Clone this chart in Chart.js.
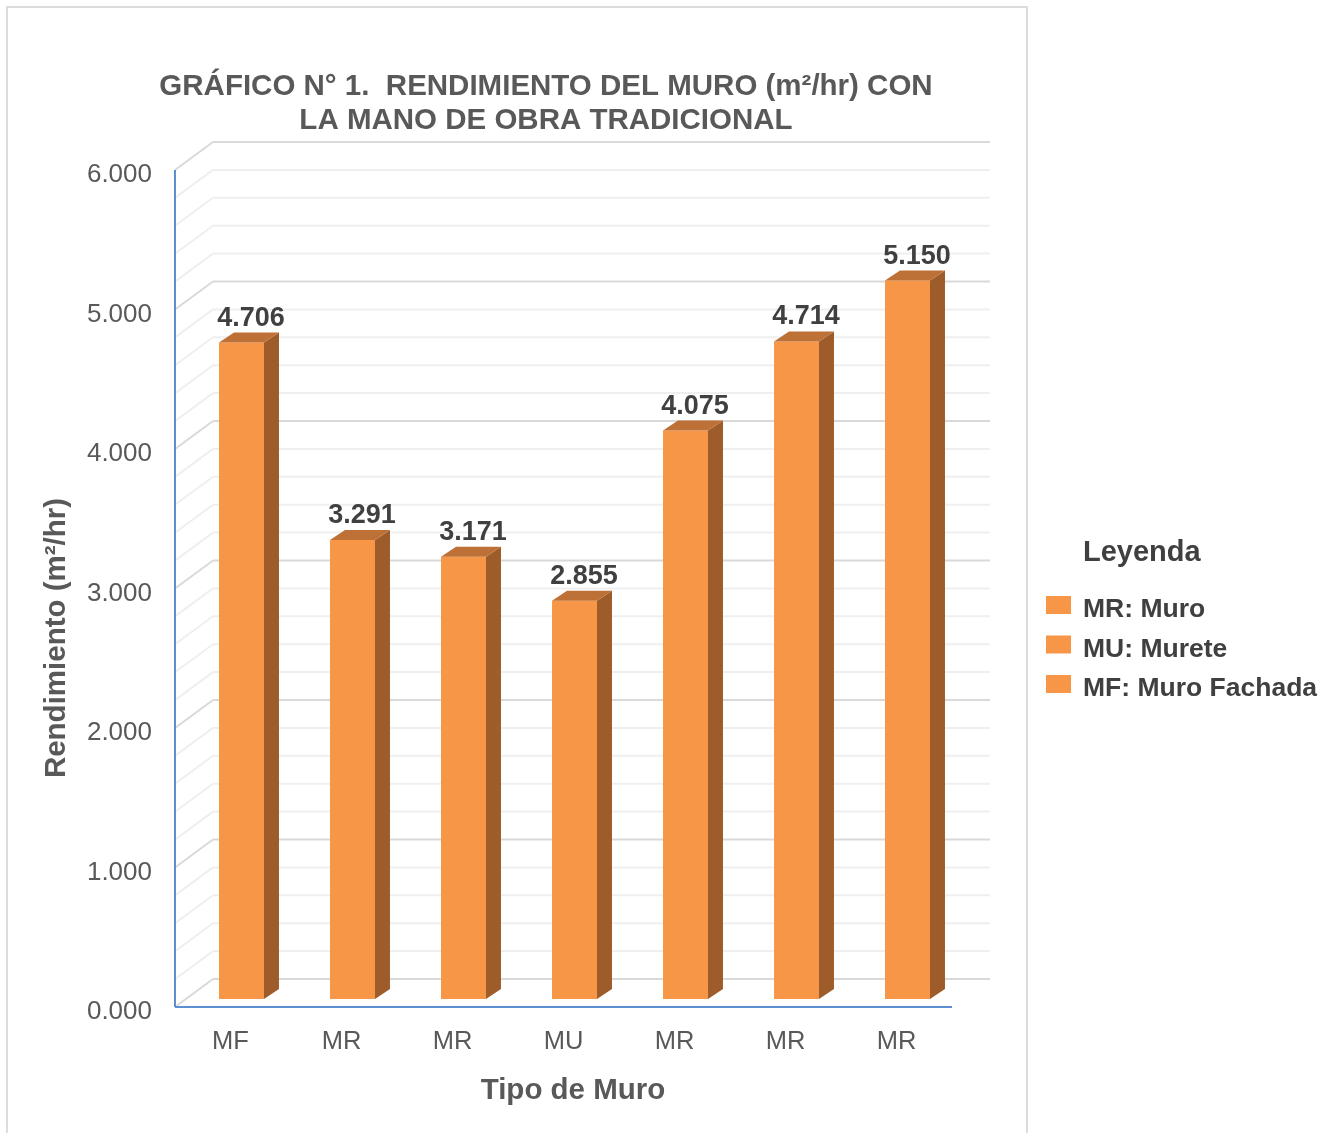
<!DOCTYPE html>
<html>
<head>
    <title>Rendimiento del muro</title>
    <script src="https://cdn.jsdelivr.net/npm/chart.js"></script>
    <style>
        body {
            margin: 0;
            background: #ffffff;
            font-family: "Liberation Sans", Arial, sans-serif;
        }
        .card {
            position: absolute;
            left: 6px;
            top: 6px;
            width: 1018px;
            height: 1140px;
            border: 2px solid #dcdcdc;
        }
        canvas {
            position: absolute;
            left: 0;
            top: 0;
        }
    </style>
</head>
<body>
    <div class="card"></div>
    <canvas id="chart" width="1336" height="1133"></canvas>
    <script>
        // data
        const categories = ['MF', 'MR', 'MR', 'MU', 'MR', 'MR', 'MR'];
        const rendimiento = [4.706, 3.291, 3.171, 2.855, 4.075, 4.714, 5.150];
        const yMax = 6;
        const yMajorStep = 1;
        const yMinorStep = 0.2;
        const legendTitle = 'Leyenda';
        const legendLabels = ['MR: Muro', 'MU: Murete', 'MF: Muro Fachada'];
        const titleLines = ['GRÁFICO N° 1.  RENDIMIENTO DEL MURO (m²/hr) CON', 'LA MANO DE OBRA TRADICIONAL'];
        const xTitle = 'Tipo de Muro';
        const yTitle = 'Rendimiento (m²/hr)';

        const FONT = '"Liberation Sans", Arial, sans-serif';
        const ORANGE = '#F79646';
        const ORANGE_TOP = '#BE7136';
        const ORANGE_SIDE = '#9D5C29';

        // offsets of the front and back walls from the plane the bars sit in
        const FRONT = { dx: -11, dy: 8 };
        const BACK = { dx: 27, dy: -20 };
        const BAR_DEPTH = { dx: 15, dy: -10 };

        function line(ctx, x1, y1, x2, y2) {
            ctx.beginPath();
            ctx.moveTo(x1, y1);
            ctx.lineTo(x2, y2);
            ctx.stroke();
        }

        const fake3d = {
            id: 'fake3d',
            beforeDatasetsDraw(chart) {
                const { ctx, chartArea: a, scales: { y } } = chart;
                const n = Math.round(yMax / yMinorStep);
                const per = Math.round(yMajorStep / yMinorStep);
                ctx.save();
                ctx.lineWidth = 2;
                // minor lines first, major ones on top
                [false, true].forEach(major => {
                    ctx.strokeStyle = major ? '#d9d9d9' : '#efefef';
                    for (let i = 0; i <= n; i++) {
                        if ((i % per === 0) !== major) continue;
                        const py = y.getPixelForValue(i * yMinorStep);
                        line(ctx, a.left + FRONT.dx, py + FRONT.dy, a.left + BACK.dx, py + BACK.dy);
                        line(ctx, a.left + BACK.dx, py + BACK.dy, a.right + BACK.dx, py + BACK.dy);
                    }
                });
                ctx.restore();
            },
            afterDatasetsDraw(chart) {
                const { ctx, chartArea: a, scales: { y } } = chart;
                const meta = chart.getDatasetMeta(0);
                ctx.save();
                meta.data.forEach((bar, i) => {
                    const { x, y: top, base, width } = bar.getProps(['x', 'y', 'base', 'width'], true);
                    const l = x - width / 2, r = x + width / 2;
                    // side face
                    ctx.fillStyle = ORANGE_SIDE;
                    ctx.beginPath();
                    ctx.moveTo(r, top);
                    ctx.lineTo(r + BAR_DEPTH.dx, top + BAR_DEPTH.dy);
                    ctx.lineTo(r + BAR_DEPTH.dx, base + BAR_DEPTH.dy);
                    ctx.lineTo(r, base);
                    ctx.closePath();
                    ctx.fill();
                    // top face
                    ctx.fillStyle = ORANGE_TOP;
                    ctx.beginPath();
                    ctx.moveTo(l, top);
                    ctx.lineTo(l + BAR_DEPTH.dx, top + BAR_DEPTH.dy);
                    ctx.lineTo(r + BAR_DEPTH.dx, top + BAR_DEPTH.dy);
                    ctx.lineTo(r, top);
                    ctx.closePath();
                    ctx.fill();
                    // value label
                    ctx.fillStyle = '#404040';
                    ctx.font = 'bold 27px ' + FONT;
                    ctx.textAlign = 'center';
                    ctx.textBaseline = 'alphabetic';
                    ctx.fillText(rendimiento[i].toFixed(3), x + BAR_DEPTH.dx / 2 + 2, top - 17);
                });
                // front axes
                ctx.strokeStyle = '#5b8fcf';
                ctx.lineWidth = 2;
                const y0 = y.getPixelForValue(0) + FRONT.dy;
                const yTop = y.getPixelForValue(yMax) + FRONT.dy;
                line(ctx, a.left + FRONT.dx, yTop, a.left + FRONT.dx, y0);
                line(ctx, a.left + FRONT.dx, y0, a.right + FRONT.dx, y0);
                ctx.restore();
            },
            afterDraw(chart) {
                const { ctx } = chart;
                ctx.save();
                ctx.fillStyle = '#595959';
                ctx.textAlign = 'center';
                ctx.textBaseline = 'middle';
                ctx.font = 'bold 29.5px ' + FONT;
                ctx.fillText(titleLines[0], 546, 87);
                ctx.fillText(titleLines[1], 546, 121);

                ctx.font = 'bold 29.5px ' + FONT;
                ctx.fillText(xTitle, 573, 1091);
                ctx.save();
                ctx.translate(57, 638);
                ctx.rotate(-Math.PI / 2);
                ctx.fillText(yTitle, 0, 0);
                ctx.restore();

                // legend
                ctx.textAlign = 'left';
                ctx.fillStyle = '#404040';
                ctx.font = 'bold 29px ' + FONT;
                ctx.fillText(legendTitle, 1083, 553);
                ctx.font = 'bold 26.5px ' + FONT;
                legendLabels.forEach((txt, i) => {
                    const cy = 610 + i * 39.5;
                    ctx.fillStyle = ORANGE;
                    ctx.fillRect(1046, cy - 14, 25, 18);
                    ctx.fillStyle = '#404040';
                    ctx.fillText(txt, 1083, cy);
                });
                ctx.restore();
            }
        };

        new Chart(document.getElementById('chart').getContext('2d'), {
            type: 'bar',
            data: {
                labels: categories,
                datasets: [{
                    data: rendimiento,
                    backgroundColor: ORANGE,
                    borderWidth: 0,
                    categoryPercentage: 0.81,
                    barPercentage: 0.5
                }]
            },
            options: {
                responsive: false,
                animation: false,
                devicePixelRatio: 1,
                layout: { padding: { left: 0, top: 162, right: 373, bottom: 0 } },
                plugins: {
                    legend: { display: false },
                    tooltip: { enabled: false }
                },
                scales: {
                    x: {
                        grid: { display: false, drawTicks: false },
                        border: { display: false },
                        ticks: {
                            color: '#595959',
                            font: { size: 25.5, family: FONT },
                            padding: 28,
                            labelOffset: FRONT.dx,
                            maxRotation: 0,
                            autoSkip: false
                        },
                        afterFit(scale) { scale.height = 134; }
                    },
                    y: {
                        min: 0,
                        max: yMax,
                        grid: { display: false, drawTicks: false },
                        border: { display: false },
                        ticks: {
                            stepSize: yMajorStep,
                            color: '#595959',
                            font: { size: 26, family: FONT },
                            padding: 34,
                            labelOffset: FRONT.dy + 5,
                            callback: v => v.toFixed(3)
                        },
                        afterFit(scale) { scale.width = 186; }
                    }
                }
            },
            plugins: [fake3d]
        });
    </script>
</body>
</html>
